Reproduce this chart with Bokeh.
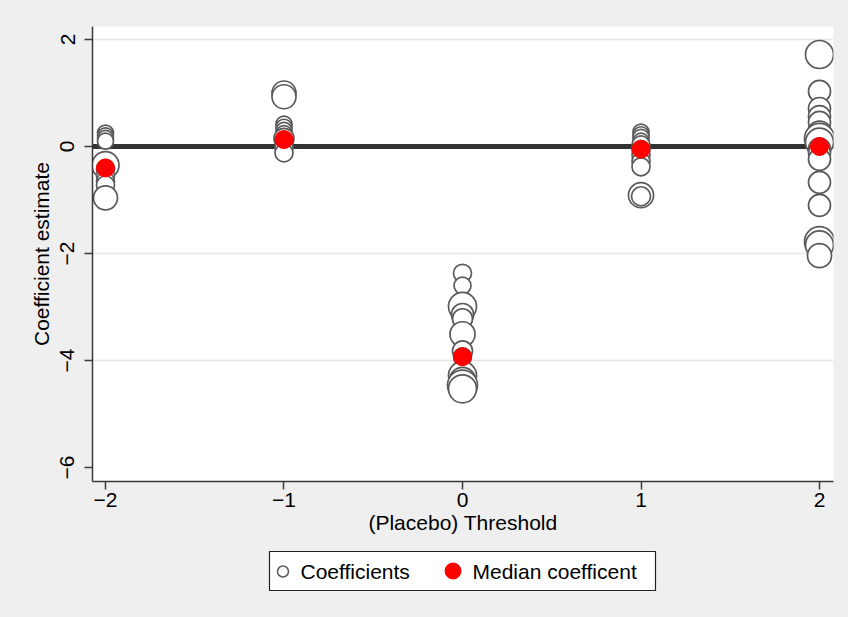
from bokeh.plotting import figure
from bokeh.models import FixedTicker, Span, Range1d
from bokeh.layouts import column
from bokeh.embed import file_html
from bokeh.resources import INLINE
from bokeh.core.properties import value

# ---------------- data ----------------
thresholds = [-2, -1, 0, 1, 2]
tick_labels_x = ["\u22122", "\u22121", "0", "1", "2"]
yticks = [-6, -4, -2, 0, 2]
tick_labels_y = ["\u22126", "\u22124", "\u22122", "0", "2"]

coef_m2 = [0.25, 0.20, 0.15, 0.10, -0.35, -0.42, -0.55, -0.65, -0.72, -0.96]
wt_m2 = [16, 16, 16, 16, 27, 18, 18, 18, 18, 24]

coef_m1 = [1.00, 0.93, 0.42, 0.36, 0.30, 0.24, 0.15, 0.05, -0.03, -0.12]
wt_m1 = [24, 24, 16, 16, 16, 16, 20, 18, 18, 18]

coef_0 = [-2.37, -2.60, -2.99, -3.14, -3.22, -3.51, -3.82, -3.93, -4.28, -4.37, -4.46, -4.53]
wt_0 = [18, 17, 28, 22, 20, 25, 20, 18, 28, 26, 30, 28]

coef_p1 = [0.27, 0.22, 0.17, 0.10, 0.03, -0.06, -0.16, -0.28, -0.38, -0.91, -0.93]
wt_p1 = [16, 16, 16, 16, 18, 18, 18, 18, 18, 25, 19]

coef_p2 = [1.72, 1.03, 0.71, 0.56, 0.45, 0.25, 0.15, 0.08, -0.05, -0.12, -0.24, -0.67, -1.10, -1.78, -1.84, -2.04]
wt_p2 = [28, 22, 22, 22, 22, 24, 30, 28, 22, 22, 22, 22, 22, 30, 28, 24]

medians = [-0.40, 0.13, -3.93, -0.05, 0.00]

legend_labels = ["Coefficients", "Median coefficent"]

groups = [coef_m2, coef_m1, coef_0, coef_p1, coef_p2]
weights = [wt_m2, wt_m1, wt_0, wt_p1, wt_p2]

xs, ys, ss = [], [], []
for t, cs, ws in zip(thresholds, groups, weights):
    for c, w in sorted(zip(cs, ws), key=lambda a: -a[0]):
        xs.append(t)
        ys.append(c)
        ss.append(w)

FONT = "Liberation Sans"
BG = "#efefef"
AX = "#3a3a3a"
CIRC = "#5a5a5a"

p = figure(frame_width=741, frame_height=455,
           x_range=Range1d(-2.0728, 2.0784), y_range=Range1d(-6.262, 2.243),
           output_backend="svg", toolbar_location=None,
           background_fill_color="white", border_fill_color=BG,
           outline_line_color=None,
           min_border_left=92, min_border_right=15, min_border_top=26, min_border_bottom=60)

p.xaxis.ticker = FixedTicker(ticks=thresholds)
p.xaxis.major_label_overrides = dict(zip(thresholds, tick_labels_x))
p.yaxis.ticker = FixedTicker(ticks=yticks)
p.yaxis.major_label_overrides = dict(zip(yticks, tick_labels_y))
p.yaxis.major_label_orientation = "vertical"
p.xaxis.axis_label = "(Placebo) Threshold"
p.yaxis.axis_label = "Coefficient estimate"

for ax in (p.xaxis, p.yaxis):
    ax.major_tick_out = 8
    ax.major_tick_in = 0
    ax.minor_tick_out = 0
    ax.minor_tick_in = 0
    ax.axis_line_color = AX
    ax.axis_line_width = 1.5
    ax.major_tick_line_color = AX
    ax.major_tick_line_width = 1.5
    ax.major_label_text_font = FONT
    ax.major_label_text_font_size = "21px"
    ax.major_label_text_color = "black"
    ax.axis_label_text_font = FONT
    ax.axis_label_text_font_size = "21px"
    ax.axis_label_text_font_style = "normal"
    ax.axis_label_text_color = "black"

p.xaxis.major_label_standoff = 3
p.xaxis.axis_label_standoff = 1
p.yaxis.major_label_standoff = 10
p.yaxis.axis_label_standoff = 5

p.xgrid.visible = False
p.ygrid.ticker = FixedTicker(ticks=[-4, -2, 0, 2])
p.ygrid.grid_line_color = "#e6e6e6"
p.ygrid.grid_line_width = 1.5

zero = Span(location=0, dimension="width", line_color="#333333", line_width=5, level="underlay")
p.add_layout(zero)

p.scatter(xs, ys, size=ss, marker="circle", fill_color="white",
          line_color=CIRC, line_width=1.7)
p.scatter(thresholds, medians, size=18, marker="circle",
          fill_color="#ff0000", line_color="#ff0000", line_width=1)

# ---------------- legend panel (data coords == page pixels) ----------------
leg = figure(frame_width=741, frame_height=76,
             x_range=Range1d(92, 833), y_range=Range1d(617, 541),
             output_backend="svg", toolbar_location=None,
             x_axis_location=None, y_axis_location=None,
             min_border_left=92, min_border_right=15, min_border_top=0, min_border_bottom=0,
             border_fill_color=BG, background_fill_color=BG,
             outline_line_color=None)
leg.grid.visible = False
leg.quad(left=269, right=655, top=551, bottom=590, fill_color="white",
         line_color="#222222", line_width=1.2)
leg.scatter([282.5], [571], size=11, marker="circle", fill_color="white",
            line_color=CIRC, line_width=1.5)
leg.text([300], [570.5], text=[legend_labels[0]], text_font=value(FONT),
         text_font_size="21px", text_baseline="middle", text_color="black")
leg.scatter([452.5], [570.5], size=16, marker="circle", fill_color="#ff0000",
            line_color="#ff0000")
leg.text([472], [570.5], text=[legend_labels[1]], text_font=value(FONT),
         text_font_size="21px", text_baseline="middle", text_color="black")

layout = column(p, leg, spacing=0, styles={"background-color": BG})
open("out.html", "w").write(file_html(layout, INLINE))
